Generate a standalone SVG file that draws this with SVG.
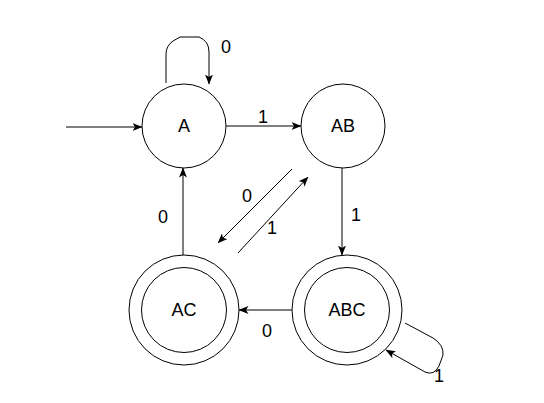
<svg xmlns="http://www.w3.org/2000/svg" width="544" height="403" viewBox="0 0 544 403">
<defs>
<marker id="arr" viewBox="0 0 10 8" refX="9.5" refY="4" markerWidth="10" markerHeight="8" markerUnits="userSpaceOnUse" orient="auto">
<path d="M0,0 L10,4 L0,8 L2.5,4 Z" fill="#000"/>
</marker>
<style>
.st{fill:#fff;stroke:#000;stroke-width:1}
.e{fill:none;stroke:#000;stroke-width:1;marker-end:url(#arr)}
text{font-family:"Liberation Sans",Arial,sans-serif;font-size:18px;fill:#000}
.c{text-anchor:middle;dominant-baseline:central}
</style>
</defs>
<rect width="544" height="403" fill="#fff"/>
<g id="edges">
<path class="e" d="M66,127 L142,127"/>
<path class="e" d="M226,126 L301,126"/>
<path class="e" d="M342,168 L342,255"/>
<path class="e" d="M292,310 L239,310"/>
<path class="e" d="M183,255 L183,168"/>
<path class="e" d="M292,169 L218,243"/>
<path class="e" d="M238,253 L308,177"/>
<path class="e" d="M166,83 L166,54 Q166,46 173,41 L180,37 L199,37 Q209,41 209,52 L209,84"/>
<path class="e" d="M405,323 L433,338 Q444,345 443,355 L439,366 Q434,376 425,372 L386,350"/>
<text class="c" x="263" y="117">1</text>
<text class="c" x="356" y="215">1</text>
<text class="c" x="267" y="331">0</text>
<text class="c" x="163" y="217">0</text>
<text class="c" x="247" y="196">0</text>
<text class="c" x="272" y="228">1</text>
<text class="c" x="226" y="47">0</text>
<text class="c" x="439" y="376">1</text>
</g>
<g id="A">
<circle class="st" cx="184" cy="126" r="42"/>
<text class="c" x="184" y="126">A</text>
</g>
<g id="AB">
<circle class="st" cx="343" cy="126" r="42"/>
<text class="c" x="343" y="126">AB</text>
</g>
<g id="AC">
<circle class="st" cx="184" cy="310" r="55"/>
<circle class="st" cx="184" cy="310" r="42.5"/>
<text class="c" x="184" y="310">AC</text>
</g>
<g id="ABC">
<circle class="st" cx="347" cy="310" r="55"/>
<circle class="st" cx="347" cy="310" r="42.5"/>
<text class="c" x="347" y="310">ABC</text>
</g>
</svg>
